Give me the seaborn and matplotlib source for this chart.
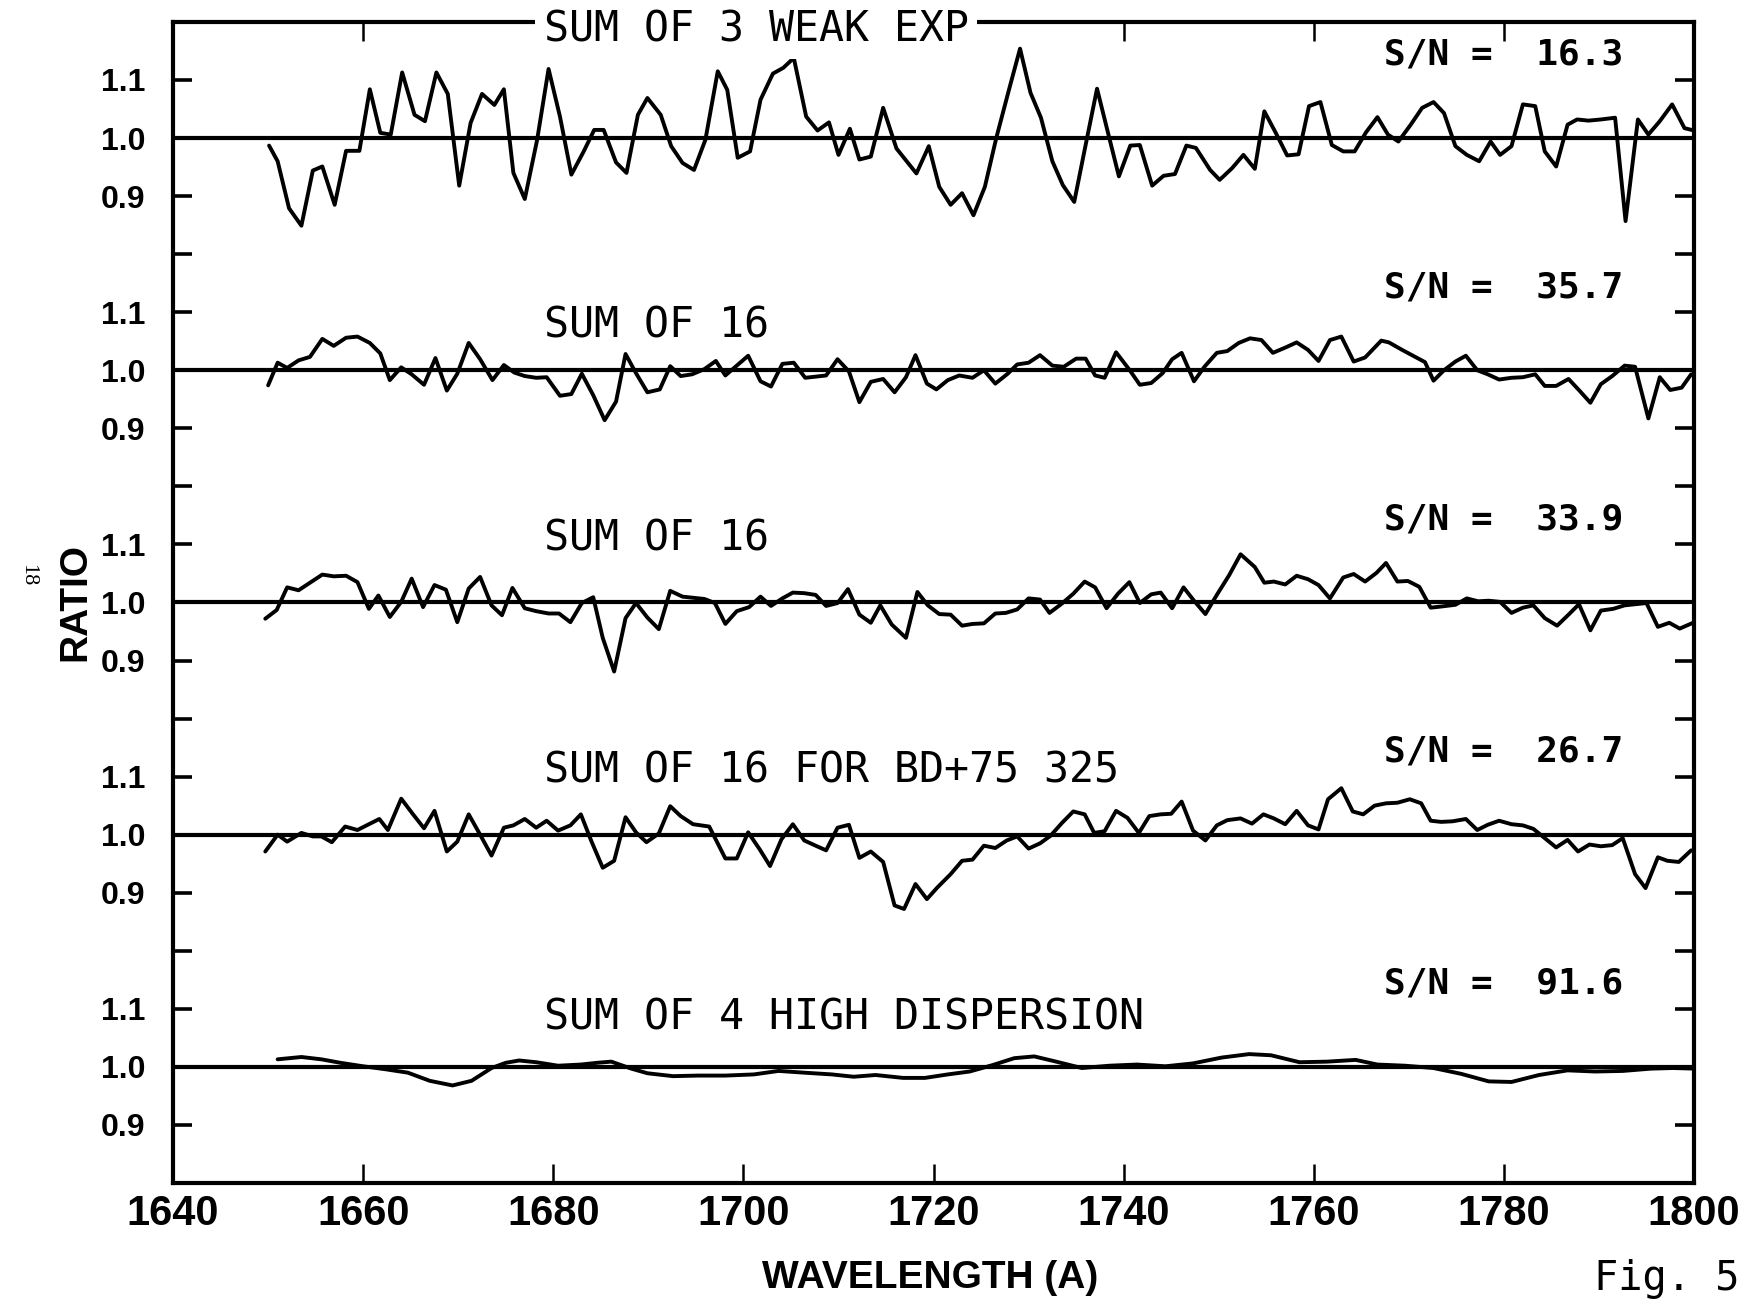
import pandas as pd
import matplotlib
matplotlib.use("Agg")
import matplotlib.pyplot as plt
import seaborn as sns
from matplotlib.ticker import FixedLocator, FixedFormatter

# ---- data (wavelength in A, ratio) ----
wave_weak = [1650.1, 1651.0, 1652.2, 1653.5, 1654.7, 1655.7, 1657.0, 1658.2, 1659.6, 1660.7,
             1661.8, 1662.9, 1664.1, 1665.4, 1666.5, 1667.7, 1668.9, 1670.1, 1671.3, 1672.5,
             1673.8, 1674.8, 1675.8, 1677.0, 1678.3, 1679.5, 1680.7, 1681.9, 1683.2, 1684.3,
             1685.3, 1686.6, 1687.7, 1688.9, 1689.9, 1691.3, 1692.4, 1693.6, 1694.8, 1696.0,
             1697.3, 1698.3, 1699.4, 1700.7, 1701.8, 1703.1, 1704.2, 1705.3, 1706.6, 1707.8,
             1709.0, 1710.0, 1711.2, 1712.2, 1713.4, 1714.7, 1716.1, 1718.2, 1719.5, 1720.6,
             1721.8, 1723.0, 1724.2, 1725.4, 1726.6, 1727.9, 1729.1, 1730.2, 1731.3, 1732.5,
             1733.6, 1734.8, 1736.0, 1737.2, 1738.4, 1739.5, 1740.7, 1741.7, 1743.0, 1744.2,
             1745.4, 1746.6, 1747.6, 1749.1, 1750.1, 1751.4, 1752.6, 1753.8, 1754.8, 1756.0,
             1757.2, 1758.4, 1759.5, 1760.7, 1761.9, 1763.1, 1764.3, 1765.5, 1766.7, 1767.8,
             1768.9, 1770.2, 1771.4, 1772.6, 1773.7, 1774.9, 1776.1, 1777.4, 1778.6, 1779.6,
             1780.8, 1782.0, 1783.3, 1784.3, 1785.5, 1786.7, 1787.7, 1788.9, 1790.2, 1791.7,
             1792.8, 1794.1, 1795.2, 1796.4, 1797.7, 1799.0, 1800.0]
ratio_weak = [0.987, 0.960, 0.879, 0.849, 0.944, 0.951, 0.885, 0.978, 0.978, 1.084,
              1.009, 1.006, 1.113, 1.040, 1.029, 1.113, 1.076, 0.918, 1.026, 1.076,
              1.057, 1.084, 0.940, 0.895, 0.997, 1.119, 1.037, 0.937, 0.977, 1.014,
              1.014, 0.958, 0.940, 1.040, 1.069, 1.040, 0.986, 0.957, 0.945, 0.997,
              1.115, 1.083, 0.966, 0.977, 1.066, 1.111, 1.121, 1.138, 1.037, 1.013,
              1.027, 0.971, 1.016, 0.963, 0.968, 1.052, 0.982, 0.939, 0.986, 0.916,
              0.885, 0.905, 0.867, 0.916, 1.000, 1.081, 1.154, 1.078, 1.035, 0.960,
              0.919, 0.890, 0.988, 1.085, 1.006, 0.934, 0.987, 0.988, 0.918, 0.935,
              0.938, 0.987, 0.983, 0.945, 0.928, 0.948, 0.971, 0.947, 1.046, 1.009,
              0.970, 0.972, 1.055, 1.062, 0.988, 0.977, 0.977, 1.010, 1.036, 1.006,
              0.994, 1.023, 1.052, 1.062, 1.043, 0.986, 0.971, 0.960, 0.994, 0.971,
              0.986, 1.058, 1.055, 0.977, 0.951, 1.023, 1.032, 1.030, 1.032, 1.035,
              0.857, 1.032, 1.006, 1.029, 1.058, 1.017, 1.013]

wave_sum16a = [1650.0, 1651.0, 1652.0, 1653.2, 1654.4, 1655.7, 1656.9, 1658.2, 1659.4, 1660.7,
               1661.8, 1662.8, 1664.0, 1665.1, 1666.4, 1667.6, 1668.8, 1669.9, 1671.1, 1672.3,
               1673.6, 1674.8, 1675.9, 1677.0, 1678.2, 1679.3, 1680.7, 1681.9, 1683.0, 1684.2,
               1685.4, 1686.6, 1687.6, 1688.7, 1689.9, 1691.2, 1692.3, 1693.4, 1694.6, 1695.9,
               1697.1, 1698.1, 1699.3, 1700.5, 1701.8, 1702.9, 1704.1, 1705.3, 1706.5, 1707.6,
               1708.7, 1709.9, 1711.1, 1712.2, 1713.4, 1714.7, 1715.9, 1717.1, 1718.1, 1719.3,
               1720.3, 1721.5, 1722.7, 1724.1, 1725.3, 1726.5, 1727.8, 1728.8, 1730.0, 1731.2,
               1732.5, 1733.7, 1735.0, 1736.0, 1737.0, 1738.0, 1739.2, 1740.6, 1741.7, 1742.9,
               1744.1, 1745.1, 1746.1, 1747.4, 1748.5, 1749.8, 1750.9, 1752.1, 1753.3, 1754.5,
               1755.7, 1757.0, 1758.2, 1759.4, 1760.5, 1761.7, 1762.9, 1764.2, 1765.4, 1767.1,
               1767.9, 1769.3, 1770.8, 1771.7, 1772.6, 1773.7, 1774.9, 1776.0, 1777.2, 1778.3,
               1779.5, 1780.8, 1782.0, 1783.3, 1784.3, 1785.5, 1786.8, 1788.0, 1789.1, 1790.2,
               1791.4, 1792.7, 1793.8, 1795.2, 1796.4, 1797.5, 1798.7, 1799.7]
ratio_sum16a = [0.974, 1.013, 1.004, 1.017, 1.023, 1.054, 1.042, 1.056, 1.058, 1.047,
                1.029, 0.983, 1.005, 0.993, 0.975, 1.021, 0.965, 0.994, 1.047, 1.019,
                0.983, 1.009, 0.996, 0.990, 0.987, 0.988, 0.956, 0.959, 0.994, 0.957,
                0.914, 0.946, 1.028, 0.995, 0.962, 0.967, 1.007, 0.990, 0.993, 1.002,
                1.016, 0.991, 1.008, 1.025, 0.981, 0.972, 1.011, 1.013, 0.987, 0.989,
                0.991, 1.019, 0.998, 0.945, 0.980, 0.985, 0.962, 0.988, 1.026, 0.977,
                0.967, 0.983, 0.991, 0.987, 1.000, 0.977, 0.994, 1.010, 1.013, 1.026,
                1.008, 1.006, 1.020, 1.020, 0.991, 0.987, 1.031, 1.001, 0.975, 0.978,
                0.995, 1.019, 1.030, 0.981, 1.006, 1.030, 1.033, 1.047, 1.055, 1.052,
                1.030, 1.039, 1.048, 1.035, 1.016, 1.052, 1.058, 1.015, 1.022, 1.051,
                1.048, 1.035, 1.022, 1.014, 0.982, 1.000, 1.015, 1.025, 1.000, 0.993,
                0.984, 0.987, 0.988, 0.993, 0.973, 0.973, 0.985, 0.964, 0.944, 0.976,
                0.990, 1.008, 1.006, 0.917, 0.988, 0.966, 0.970, 0.993]

wave_sum16b = [1649.7, 1650.9, 1652.0, 1653.2, 1654.4, 1655.7, 1656.9, 1658.2, 1659.4, 1660.6,
               1661.6, 1662.8, 1664.0, 1665.1, 1666.3, 1667.5, 1668.7, 1669.9, 1671.1, 1672.3,
               1673.5, 1674.6, 1675.7, 1677.0, 1678.2, 1679.5, 1680.6, 1681.8, 1683.0, 1684.2,
               1685.2, 1686.4, 1687.6, 1688.7, 1689.9, 1691.1, 1692.3, 1693.6, 1694.7, 1695.9,
               1697.0, 1698.1, 1699.3, 1700.6, 1701.8, 1702.9, 1704.1, 1705.2, 1706.4, 1707.6,
               1708.7, 1709.9, 1711.0, 1712.2, 1713.4, 1714.4, 1715.6, 1717.1, 1718.3, 1719.4,
               1720.6, 1721.8, 1723.0, 1724.1, 1725.3, 1726.5, 1727.6, 1728.8, 1730.0, 1731.2,
               1732.2, 1733.5, 1734.7, 1735.9, 1737.0, 1738.2, 1739.4, 1740.6, 1741.7, 1742.9,
               1743.9, 1745.1, 1746.3, 1747.4, 1748.6, 1749.8, 1751.1, 1752.3, 1753.8, 1754.8,
               1755.8, 1757.0, 1758.2, 1759.4, 1760.5, 1761.7, 1763.1, 1764.2, 1765.4, 1766.6,
               1767.6, 1768.8, 1769.9, 1771.1, 1772.3, 1773.4, 1774.9, 1776.1, 1777.3, 1778.4,
               1779.6, 1780.8, 1782.0, 1783.1, 1784.3, 1785.6, 1786.8, 1787.9, 1789.1, 1790.2,
               1791.5, 1792.7, 1793.8, 1795.0, 1796.2, 1797.4, 1798.5, 1799.9]
ratio_sum16b = [0.972, 0.987, 1.026, 1.021, 1.034, 1.048, 1.045, 1.046, 1.035, 0.989,
                1.012, 0.975, 1.001, 1.041, 0.992, 1.030, 1.022, 0.966, 1.024, 1.044,
                0.995, 0.978, 1.025, 0.990, 0.985, 0.981, 0.981, 0.966, 0.999, 1.009,
                0.939, 0.881, 0.973, 0.999, 0.974, 0.954, 1.020, 1.010, 1.008, 1.006,
                0.999, 0.963, 0.985, 0.992, 1.010, 0.994, 1.007, 1.017, 1.016, 1.013,
                0.994, 0.999, 1.023, 0.979, 0.965, 0.995, 0.962, 0.939, 1.018, 0.995,
                0.980, 0.979, 0.960, 0.963, 0.964, 0.981, 0.982, 0.988, 1.007, 1.005,
                0.982, 0.998, 1.015, 1.036, 1.026, 0.990, 1.015, 1.035, 0.999, 1.014,
                1.017, 0.990, 1.026, 1.003, 0.980, 1.013, 1.047, 1.083, 1.061, 1.034,
                1.036, 1.031, 1.046, 1.040, 1.030, 1.007, 1.043, 1.049, 1.036, 1.051,
                1.068, 1.036, 1.037, 1.027, 0.991, 0.993, 0.996, 1.007, 1.002, 1.003,
                1.001, 0.982, 0.991, 0.995, 0.973, 0.960, 0.979, 0.997, 0.952, 0.986,
                0.989, 0.995, 0.997, 0.999, 0.958, 0.965, 0.955, 0.965]

wave_bd75 = [1649.7, 1651.0, 1652.0, 1653.5, 1654.7, 1655.6, 1656.7, 1658.1, 1659.4, 1660.6,
             1661.7, 1662.6, 1664.0, 1665.2, 1666.4, 1667.5, 1668.8, 1669.9, 1671.1, 1672.3,
             1673.5, 1674.8, 1675.8, 1677.0, 1678.2, 1679.3, 1680.5, 1681.8, 1682.9, 1684.0,
             1685.2, 1686.4, 1687.6, 1688.7, 1689.8, 1691.1, 1692.3, 1693.4, 1694.7, 1696.4,
             1698.1, 1699.3, 1700.5, 1701.7, 1702.8, 1704.0, 1705.2, 1706.4, 1707.6, 1708.7,
             1709.9, 1711.1, 1712.2, 1713.4, 1714.7, 1715.9, 1716.9, 1718.1, 1719.3, 1720.4,
             1721.8, 1723.0, 1724.1, 1725.3, 1726.5, 1727.7, 1728.8, 1730.0, 1731.2, 1732.3,
             1733.5, 1734.7, 1735.9, 1736.9, 1738.0, 1739.2, 1740.4, 1741.6, 1742.7, 1743.9,
             1745.0, 1746.1, 1747.3, 1748.6, 1749.8, 1750.9, 1752.3, 1753.5, 1754.7, 1755.8,
             1757.0, 1758.2, 1759.4, 1760.5, 1761.5, 1762.9, 1764.1, 1765.2, 1766.4, 1767.6,
             1768.8, 1770.1, 1771.3, 1772.3, 1773.4, 1774.6, 1776.0, 1777.2, 1778.3, 1779.5,
             1780.8, 1782.0, 1783.1, 1784.3, 1785.5, 1786.7, 1787.8, 1789.0, 1790.2, 1791.4,
             1792.5, 1793.8, 1794.9, 1796.2, 1797.2, 1798.4, 1799.7]
ratio_bd75 = [0.971, 1.000, 0.988, 1.003, 0.997, 0.997, 0.987, 1.014, 1.008, 1.018,
              1.027, 1.008, 1.062, 1.036, 1.011, 1.041, 0.971, 0.988, 1.035, 1.000,
              0.964, 1.012, 1.016, 1.027, 1.012, 1.024, 1.007, 1.016, 1.035, 0.989,
              0.943, 0.955, 1.030, 1.004, 0.987, 1.002, 1.049, 1.032, 1.018, 1.014,
              0.959, 0.959, 1.004, 0.975, 0.946, 0.992, 1.018, 0.990, 0.981, 0.973,
              1.012, 1.017, 0.960, 0.971, 0.953, 0.878, 0.872, 0.915, 0.889, 0.909,
              0.932, 0.955, 0.957, 0.981, 0.977, 0.990, 0.997, 0.976, 0.985, 0.998,
              1.020, 1.040, 1.035, 1.003, 1.006, 1.041, 1.029, 1.003, 1.032, 1.035,
              1.036, 1.057, 1.007, 0.990, 1.016, 1.025, 1.028, 1.019, 1.035, 1.028,
              1.018, 1.041, 1.016, 1.009, 1.061, 1.080, 1.040, 1.035, 1.050, 1.054,
              1.055, 1.061, 1.054, 1.024, 1.022, 1.023, 1.027, 1.008, 1.017, 1.024,
              1.018, 1.016, 1.010, 0.994, 0.978, 0.991, 0.971, 0.983, 0.980, 0.982,
              0.994, 0.932, 0.908, 0.961, 0.955, 0.953, 0.973]

wave_hidisp = [1651.0, 1653.5, 1655.6, 1657.6, 1660.0, 1662.3, 1664.7, 1667.0, 1669.4, 1671.4,
               1673.5, 1675.0, 1676.4, 1678.2, 1680.5, 1682.9, 1684.6, 1686.1, 1688.2, 1689.9,
               1692.6, 1695.2, 1698.1, 1701.1, 1703.7, 1706.4, 1709.3, 1711.6, 1713.9, 1716.8,
               1719.1, 1721.5, 1723.8, 1726.2, 1728.5, 1730.6, 1732.9, 1735.6, 1738.5, 1741.4,
               1744.4, 1747.3, 1750.3, 1753.2, 1755.5, 1758.5, 1761.4, 1764.4, 1766.7, 1769.6,
               1772.6, 1775.5, 1778.4, 1780.8, 1783.7, 1786.7, 1789.6, 1792.5, 1795.5, 1797.8,
               1800.0]
ratio_hidisp = [1.013, 1.017, 1.013, 1.007, 1.001, 0.996, 0.990, 0.976, 0.968, 0.976,
                0.998, 1.007, 1.011, 1.008, 1.002, 1.004, 1.007, 1.009, 0.997, 0.989,
                0.984, 0.985, 0.985, 0.987, 0.993, 0.990, 0.987, 0.983, 0.986, 0.981,
                0.981, 0.987, 0.992, 1.003, 1.015, 1.018, 1.009, 0.998, 1.002, 1.004,
                1.001, 1.006, 1.016, 1.022, 1.020, 1.008, 1.009, 1.012, 1.004, 1.002,
                0.998, 0.988, 0.975, 0.974, 0.986, 0.994, 0.992, 0.993, 0.997, 0.998,
                0.997]

panel_names = ["SUM OF 3 WEAK EXP", "SUM OF 16", "SUM OF 16",
               "SUM OF 16 FOR BD+75 325", "SUM OF 4 HIGH DISPERSION"]
snr_values = [16.3, 35.7, 33.9, 26.7, 91.6]
panel_waves = [wave_weak, wave_sum16a, wave_sum16b, wave_bd75, wave_hidisp]
panel_ratios = [ratio_weak, ratio_sum16a, ratio_sum16b, ratio_bd75, ratio_hidisp]

x_ticks = [1640, 1660, 1680, 1700, 1720, 1740, 1760, 1780, 1800]
ratio_tick_values = [1.1, 1.0, 0.9, 0.8]
ratio_tick_labels = ["1.1", "1.0", "0.9", ""]

# layout: each spectrum is shifted up by 0.4 in ratio units
panel_offsets = [1.6, 1.2, 0.8, 0.4, 0.0]
name_heights = [1.166, 1.057, 1.089, 1.089, 1.065]


def main():
    sns.set_style("ticks")
    plt.rcParams["font.family"] = ["Liberation Sans", "DejaVu Sans"]
    plt.rcParams.update({"text.color": "black", "axes.labelcolor": "black",
                         "xtick.color": "black", "ytick.color": "black"})

    frames = []
    for i, (w, r, off) in enumerate(zip(panel_waves, panel_ratios, panel_offsets)):
        d = pd.DataFrame({"wavelength": w, "ratio": r})
        d["panel"] = i
        d["y"] = d["ratio"] + off
        frames.append(d)
    data = pd.concat(frames, ignore_index=True)

    fig = plt.figure(figsize=(17.5, 13.06), dpi=100)
    ax = fig.add_axes([0.0989, 0.0942, 0.8691, 0.8890])

    # unit reference line for each spectrum
    for off in panel_offsets:
        ax.axhline(off + 1.0, color="black", lw=3.0, zorder=1.8)

    sns.lineplot(data=data, x="wavelength", y="y", units="panel", estimator=None,
                 sort=False, color="black", linewidth=2.8, legend=False, ax=ax)

    ax.set_xlim(1640, 1800)
    ax.set_ylim(0.8, 2.8)

    # y ticks: 1.1/1.0/0.9 labelled for every spectrum
    yt, yl = [], []
    for off in panel_offsets:
        for v, lab in zip(ratio_tick_values, ratio_tick_labels):
            if off + v > 0.85:
                yt.append(off + v)
                yl.append(lab)
    ax.yaxis.set_major_locator(FixedLocator(yt))
    ax.yaxis.set_major_formatter(FixedFormatter(yl))
    ax.set_xticks(x_ticks)
    ax.set_xticklabels([str(t) for t in x_ticks])

    ax.tick_params(axis="y", direction="in", left=True, right=True, length=14,
                   width=2.6, pad=20, labelsize=23)
    ax.tick_params(axis="x", direction="in", bottom=True, top=True, length=14,
                   width=1.8, pad=8, labelsize=30)
    for lab in ax.get_xticklabels() + ax.get_yticklabels():
        lab.set_fontweight("bold")
    for s in ax.spines.values():
        s.set_linewidth(3)
        s.set_color("black")

    ax.set_xlabel("WAVELENGTH (A)", fontsize=28, fontweight="bold", va="center")
    ax.xaxis.set_label_coords(0.498, -0.082)
    ax.set_ylabel("RATIO", fontsize=28, fontweight="bold", va="center")
    ax.yaxis.set_label_coords(-0.064, 0.50)

    mono = ["DejaVu Sans Mono"]
    for i, (name, snr, off) in enumerate(zip(panel_names, snr_values, panel_offsets)):
        box = dict(facecolor="white", edgecolor="none", pad=6) if i == 0 else None
        ax.text(1679.0, off + name_heights[i], name, family=mono, fontsize=30,
                va="baseline", ha="left", bbox=box, zorder=5)
        ax.text(1767.4, off + 1.126, f"S/N = {snr:5.1f}", family=mono, fontsize=26,
                fontweight="bold", va="baseline", ha="left")

    fig.text(1594 / 1750, 1 - 1290 / 1306, "Fig. 5", family=mono, fontsize=29,
             va="baseline", ha="left")
    fig.text(28 / 1750, 1 - 575 / 1306, "18", family=["Liberation Serif"], fontsize=16,
             rotation=270, va="center", ha="center")

    fig.savefig("out.png", dpi=100)


if __name__ == "__main__":
    main()
